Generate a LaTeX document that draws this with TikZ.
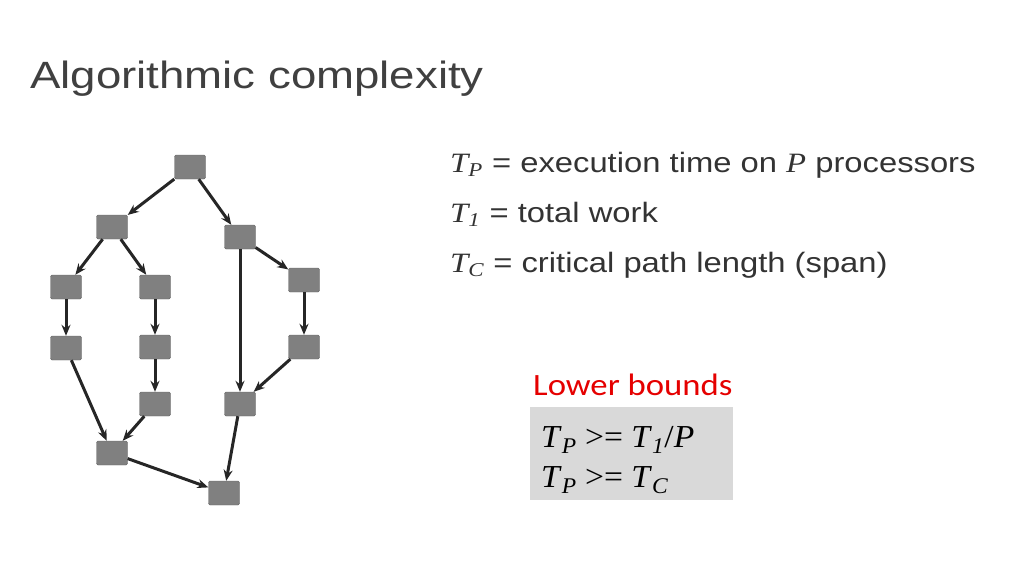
\documentclass[tikz,border=0pt]{standalone}
\usepackage{fontspec}
\usepackage{graphicx}
\setmainfont{Liberation Serif}
\setsansfont{Liberation Sans}
\newfontfamily\carl{Carlito}
\usetikzlibrary{arrows.meta}
\begin{document}
\begin{tikzpicture}[x=1pt,y=-1pt,
  task/.style={draw=black!60,fill=black!50,minimum width=31pt,minimum height=24pt,inner sep=0pt,rounded corners=1.5pt},
  edge/.style={-{Stealth[length=11pt,width=9pt]},line width=3pt,draw=black!85},
  txt/.style={anchor=base west,inner sep=0pt,font=\sffamily\fontsize{28}{30}\selectfont,text=black!80}]
\useasboundingbox (0,0) rectangle (1024,576);
\node[anchor=base west,inner sep=0pt,font=\sffamily\fontsize{38}{40}\selectfont,text=black!75] (title) at (30,88) {\scalebox{1.2}[1]{Algorithmic complexity}};
\node[task] (A) at (190,167) {};
\node[task] (B) at (112,227) {};
\node[task] (C) at (240,237) {};
\node[task] (D) at (66,287) {};
\node[task] (E) at (155,287) {};
\node[task] (F) at (304,280) {};
\node[task] (G) at (66,348) {};
\node[task] (H) at (155,347) {};
\node[task] (I) at (304,347) {};
\node[task] (J) at (155,404) {};
\node[task] (K) at (240,404) {};
\node[task] (L) at (112,453) {};
\node[task] (M) at (224,493) {};
\foreach \a/\b in {A/B,A/C,B/D,B/E,D/G,E/H,H/J,G/L,J/L,C/K,C/F,F/I,I/K,K/M,L/M}
  \draw[edge] (\a) -- (\b);
\node[txt] (l1) at (450,172) {\scalebox{1.17}[1]{\rmfamily\itshape T\textsubscript{P}\upshape\sffamily{} = execution time on \rmfamily\itshape P\upshape\sffamily{} processors}};
\node[txt] (l2) at (450,222) {\scalebox{1.17}[1]{\rmfamily\itshape T\textsubscript{1}\upshape\sffamily{} = total work}};
\node[txt] (l3) at (450,272) {\scalebox{1.17}[1]{\rmfamily\itshape T\textsubscript{C}\upshape\sffamily{} = critical path length (span)}};
\node[anchor=base west,inner sep=0pt,font=\carl\fontsize{31}{32}\selectfont,text=red!90!black] (lb) at (533,395) {\scalebox{1.12}[1]{Lower bounds}};
\node[draw=none,fill=black!15,anchor=north west,minimum width=203pt,minimum height=93pt] (box) at (530,407) {};
\node[anchor=base west,inner sep=0pt,font=\rmfamily\fontsize{32}{34}\selectfont] (e1) at (541,447) {\scalebox{1.05}[1]{\textit{T}\textsubscript{\textit{P}} >= \textit{T}\textsubscript{\textit{1}}/\textit{P}}};
\node[anchor=base west,inner sep=0pt,font=\rmfamily\fontsize{32}{34}\selectfont] (e2) at (541,487) {\scalebox{1.05}[1]{\textit{T}\textsubscript{\textit{P}} >= \textit{T}\textsubscript{\textit{C}}}};
\end{tikzpicture}
\end{document}
